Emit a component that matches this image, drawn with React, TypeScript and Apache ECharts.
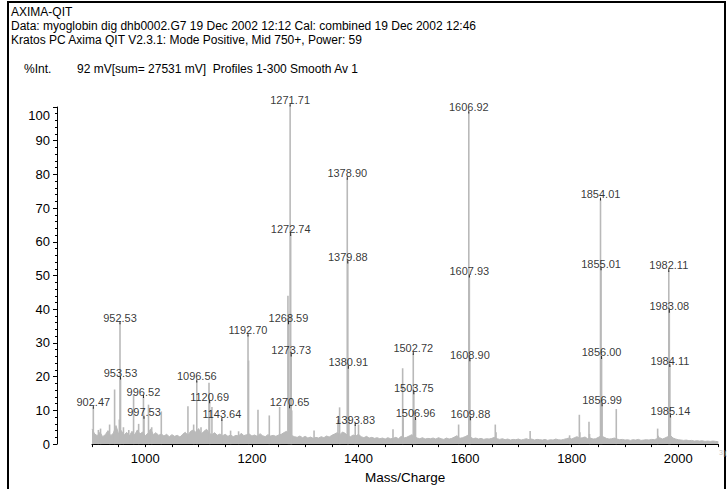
import React, { useEffect, useRef } from "react";
import * as echarts from "echarts";

// Labelled peaks (m/z and %Int)
const labeledMass = [902.47, 952.53, 953.53, 996.52, 997.53, 1096.56, 1120.69, 1143.64, 1192.70, 1268.59, 1270.65, 1271.71, 1272.74, 1273.73, 1378.90, 1379.88, 1380.91, 1393.83, 1502.72, 1503.75, 1506.96, 1606.92, 1607.93, 1608.90, 1609.88, 1854.01, 1855.01, 1856.00, 1856.99, 1982.11, 1983.08, 1984.11, 1985.14];
const labeledInt = [10.9, 36.0, 19.6, 14.1, 8.0, 18.7, 12.6, 7.3, 32.4, 36.0, 11.1, 100.6, 62.2, 26.4, 78.9, 54.0, 22.8, 5.8, 26.9, 15.2, 7.6, 98.5, 49.9, 25.0, 7.5, 72.7, 52.0, 25.7, 11.7, 51.5, 39.4, 23.3, 8.3];

// Unlabelled peaks
const otherMass = [912, 916, 933, 942.4, 951.3, 959, 969, 978, 987.5, 1006, 1012, 1030, 1080, 1090.7, 1104.5, 1119.5, 1125, 1160, 1175, 1193.7, 1211.4, 1232.6, 1252, 1267.6, 1274.7, 1316.6, 1361.5, 1364.5, 1381.9, 1400, 1464.7, 1482.8, 1483.8, 1504.7, 1587.8, 1656.6, 1658, 1722, 1796, 1814.3, 1815.3, 1832.4, 1833.4, 1883.6, 1961.2, 1962.2];
const otherInt = [4.2, 4.6, 5.8, 16.2, 7.3, 5.0, 4.2, 14.8, 6.0, 11.7, 5.0, 9.7, 11.2, 5.8, 5.0, 18.2, 11.0, 4.0, 3.8, 24.8, 10.2, 8.5, 11.0, 44.0, 10.0, 4.0, 7.3, 10.9, 8.0, 5.8, 4.4, 22.5, 8.0, 10.0, 5.8, 5.8, 3.5, 3.9, 2.6, 8.7, 3.5, 6.6, 3.0, 10.4, 4.6, 2.5];

// Baseline noise, every 5 m/z from 900
const noiseStart = 900;
const noiseStep = 5;
const noise = [
  4.5, 3.0, 2.5, 3.5, 2.2, 2.8, 4.0, 2.5, 3.2,
  5.5, 3.0, 4.0, 2.6, 3.5, 2.4, 3.8, 2.7, 4.2, 3.0,
  3.6, 2.5, 3.2, 4.5, 2.8, 3.4, 2.6, 3.0, 2.4, 2.9,
  2.2, 2.8, 2.3, 2.6, 2.1, 2.9, 3.5, 2.6, 3.8, 4.2,
  3.5, 4.6, 3.0, 3.8, 4.4, 3.2, 2.8, 3.4, 2.6, 3.0,
  2.5, 2.9, 2.3, 2.7, 2.2, 2.6, 2.4, 3.2, 2.5, 2.8,
  3.0, 2.4, 2.7, 2.3, 3.1, 2.5, 2.2, 2.8, 2.4, 2.6,
  2.3, 2.7, 2.9, 3.4, 3.8, 3.0, 2.5, 2.2, 2.0, 2.4,
  1.9, 2.3, 1.8, 2.1, 1.7, 2.0, 1.8, 2.2, 1.9, 2.4,
  2.1, 2.6, 3.0, 3.4, 2.8, 3.6, 3.2, 2.5, 2.2, 2.7,
  2.4, 2.9, 2.2, 1.9, 2.3, 1.8, 2.0, 1.7, 1.9, 1.6,
  1.8, 1.5, 1.9, 1.6, 1.7, 2.0, 1.6, 2.3, 1.8, 2.0,
  2.4, 2.8, 2.2, 1.8, 1.6, 1.9, 1.5, 1.7, 1.6, 1.8,
  1.5, 1.9, 1.6, 1.4, 1.8, 1.5, 1.7, 2.1, 2.5, 1.7,
  1.9, 2.2, 2.6, 2.1, 1.6, 1.8, 1.5, 1.7, 1.4, 1.6,
  1.5, 1.7, 2.0, 1.6, 1.4, 1.6, 1.3, 1.5, 1.2, 1.4,
  1.3, 1.5, 1.2, 1.4, 1.6, 1.3, 1.5, 1.2, 1.4, 1.3,
  1.2, 1.4, 1.1, 1.3, 1.2, 1.5, 1.3, 1.2, 1.4, 1.6,
  1.8, 1.5, 1.9, 2.2, 1.7, 1.9, 2.1, 1.6, 1.8, 1.5,
  1.6, 2.0, 2.4, 2.1, 1.7, 1.5, 1.6, 1.8, 1.5, 1.3,
  1.4, 1.2, 1.3, 1.1, 1.3, 1.2, 1.4, 1.1, 1.2, 1.3,
  1.2, 1.4, 1.3, 1.6, 1.9, 1.5, 1.8, 2.2, 2.6, 1.8,
  1.5, 1.3, 1.2, 1.1, 1.2, 1.0, 1.1, 0.9, 1.0, 0.9,
  1.0, 0.8, 0.9, 0.8, 0.9, 0.8, 0.7,
];

const yTicks = [0, 10, 20, 30, 40, 50, 60, 70, 80, 90, 100];
const xLabelStep = 200;

const headerLines = [
  "AXIMA-QIT",
  "Data: myoglobin dig dhb0002.G7 19 Dec 2002 12:12 Cal: combined 19 Dec 2002 12:46",
  "Kratos PC Axima QIT V2.3.1: Mode Positive, Mid 750+, Power: 59",
];
const intLabel = "%Int.";
const intInfo = "92 mV[sum= 27531 mV]  Profiles 1-300 Smooth Av 1";
const xName = "Mass/Charge";

const FONT = "'Liberation Sans', Arial, Helvetica, sans-serif";
const GRAY = "#b9b9b9";

export default function App() {
  const ref = useRef<HTMLDivElement>(null);
  useEffect(() => {
    if (!ref.current) return;
    const chart = echarts.init(ref.current, null, { renderer: "svg" });
    const peaks: number[][] = [];
    otherMass.forEach((m, i) => peaks.push([m, otherInt[i]]));
    labeledMass.forEach((m, i) => peaks.push([m, labeledInt[i]]));
    const noiseData = noise.map((v, i) => [noiseStart + i * noiseStep, v]);
    const labelData = labeledMass.map((m, i) => [m, labeledInt[i]]);
    const topTick = yTicks[yTicks.length - 1];

    chart.setOption({
      animation: false,
      backgroundColor: "#fff",
      textStyle: { fontFamily: FONT },
      grid: { left: 92, top: 107, width: 626.3, height: 343, containLabel: false },
      xAxis: {
        type: "value",
        min: 900,
        max: 2075,
        interval: 50,
        axisLine: { show: true, onZero: false, lineStyle: { color: "#000", width: 1 } },
        axisTick: { show: true, length: 3, lineStyle: { color: "#000" } },
        axisLabel: {
          color: "#000",
          fontSize: 13,
          fontFamily: FONT,
          margin: 8,
          formatter: (v: number) => (v % xLabelStep === 0 ? String(v) : ""),
        },
        splitLine: { show: false },
        name: xName,
        nameLocation: "middle",
        nameGap: 20,
        nameTextStyle: { color: "#000", fontSize: 13.5, fontFamily: FONT },
      },
      yAxis: {
        type: "value",
        min: yTicks[0],
        max: topTick,
        interval: 10,
        offset: 35,
        axisLine: { show: true, lineStyle: { color: "#000", width: 1 } },
        axisTick: { show: true, length: 4, lineStyle: { color: "#000" } },
        minorTick: { show: true, splitNumber: 5, length: 2, lineStyle: { color: "#000" } },
        axisLabel: {
          color: "#000",
          fontSize: 13,
          fontFamily: FONT,
          margin: 7,
          formatter: (v: number) => (v === topTick ? "{t|" + v + "}" : String(v)),
          rich: { t: { fontSize: 13, fontFamily: FONT, color: "#000", padding: [16, 0, 0, 0] } },
        },
        splitLine: { show: false },
      },
      graphic: [
        {
          type: "rect",
          shape: { x: 8, y: 2, width: 717, height: 520 },
          style: { fill: "none", stroke: "#000", lineWidth: 2 },
          silent: true,
        },
        ...headerLines.map((t, i) => ({
          type: "text",
          left: 11,
          top: 6 + i * 14,
          style: { text: t, fontSize: 12, fontFamily: FONT, fill: "#000" },
        })),
        {
          type: "text",
          left: 24,
          top: 63,
          style: { text: intLabel, fontSize: 12, fontFamily: FONT, fill: "#000" },
        },
        {
          type: "text",
          left: 77,
          top: 63,
          style: { text: intInfo, fontSize: 12, fontFamily: FONT, fill: "#000" },
        },
        {
          type: "text",
          left: 719,
          top: 449,
          style: { text: "3|(", fontSize: 7, fontFamily: FONT, fill: "#c8c8c8" },
        },
      ],
      series: [
        {
          type: "line",
          data: noiseData,
          symbol: "none",
          clip: true,
          lineStyle: { color: GRAY, width: 1 },
          areaStyle: { color: GRAY, opacity: 1 },
          z: 1,
        },
        {
          type: "bar",
          data: peaks,
          barWidth: 1.6,
          clip: false,
          itemStyle: { color: GRAY },
          z: 2,
        },
        {
          type: "scatter",
          data: labelData,
          symbol: "rect",
          symbolSize: [1, 3],
          clip: false,
          itemStyle: { color: "#000" },
          z: 3,
          label: {
            show: true,
            position: "top",
            distance: -2,
            color: "#000000",
            textBorderWidth: 0,
            fontSize: 11,
            fontFamily: FONT,
            formatter: (p: any) => p.value[0].toFixed(2),
          },
          labelLayout: { hideOverlap: false },
        },
      ],
    });
    return () => chart.dispose();
  }, []);
  return (
    <div
      ref={ref}
      style={{ position: "fixed", left: 0, top: 0, width: 727, height: 489, background: "#fff" }}
    />
  );
}
